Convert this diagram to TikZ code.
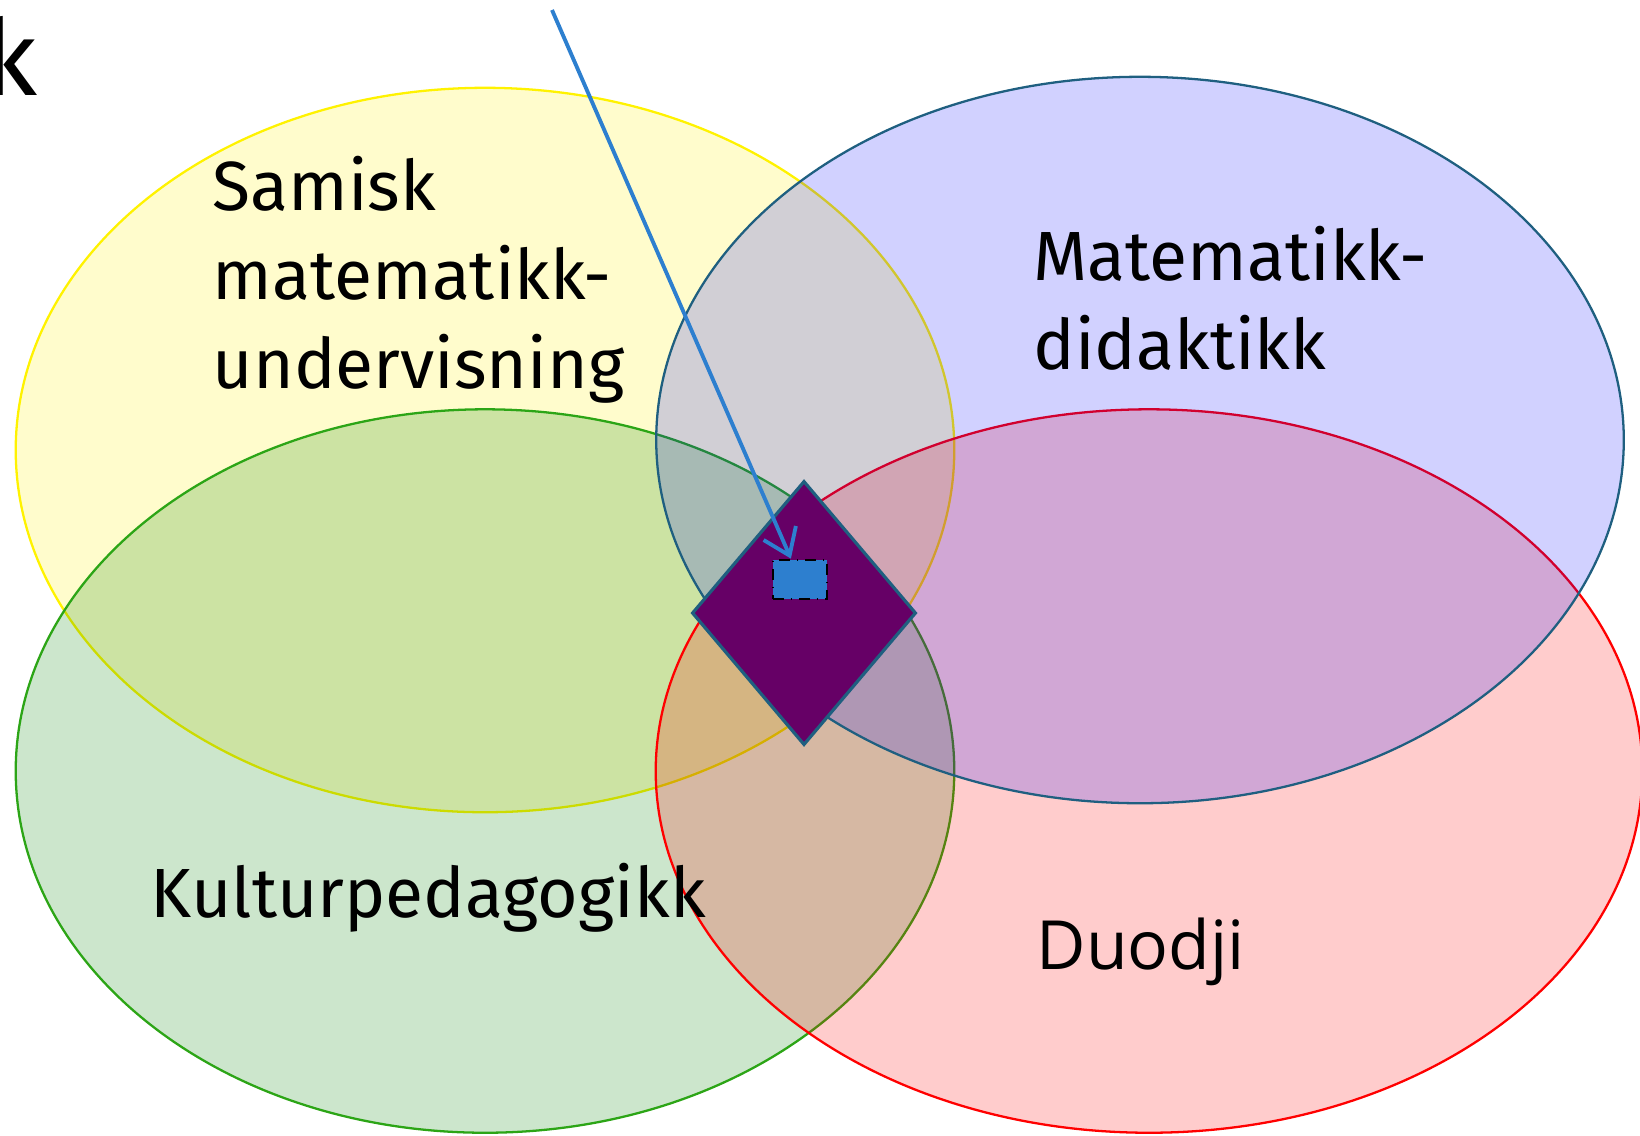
\documentclass[tikz,border=0pt]{standalone}
\usepackage{fontspec}
\setmainfont{Fira Sans}
\newfontfamily\duofont{Open Sans}
\usepackage{tikz}
\usetikzlibrary{shapes,arrows.meta,positioning}
\usepackage{xcolor}
\definecolor{tealline}{RGB}{31,95,128}
\definecolor{pilblue}{RGB}{45,127,207}
\definecolor{kjernelilla}{RGB}{102,0,102}
\definecolor{greenline}{RGB}{44,165,22}
\definecolor{mgreen}{RGB}{0,128,0}

\begin{document}
\begin{tikzpicture}[
    x=0.01cm, y=-0.01cm,
    venn/.style={ellipse, draw, line width=0.65pt, fill opacity=0.2, draw opacity=1, inner sep=0pt},
    tekst/.style={anchor=base west, inner sep=0pt, align=left, font=\fontsize{19.8}{25.3}\selectfont},
    kjerne/.style={diamond, draw=tealline, line width=0.9pt, fill=kjernelilla, inner sep=0pt, minimum width=2.24cm, minimum height=2.64cm},
    brikke/.style={rectangle, draw=black, dash dot, line width=0.8pt, fill=pilblue, inner sep=0pt, minimum width=0.54cm, minimum height=0.39cm},
    arrow/.style={-{Straight Barb[length=7pt,width=10pt]}, draw=pilblue, line width=1.1pt}
]
\useasboundingbox (0,0) rectangle (1640,1135);

\node[venn, draw=yellow, fill=yellow, minimum width=9.38cm, minimum height=7.24cm] (samisk) at (485,450) {};
\node[venn, draw=greenline, fill=mgreen, minimum width=9.38cm, minimum height=7.23cm] (kultur) at (485,771) {};
\node[venn, draw=red, fill=red, minimum width=9.86cm, minimum height=7.23cm] (duodji) at (1149,771) {};
\node[venn, draw=tealline, fill=blue, fill opacity=0.18, minimum width=9.67cm, minimum height=7.26cm] (matdid) at (1140,440) {};

\node[tekst] (samisktxt) at (212,388) {Samisk\\matematikk-\\undervisning};
\node[tekst] (matdidtxt) at (1033,369) {Matematikk-\\didaktikk};
\node[tekst] (kulturtxt) at (150,917) {Kulturpedagogikk};
\node[tekst, font=\duofont\fontsize{19.3}{24}\selectfont] (duodjitxt) at (1036,969) {Duodji};
\node[anchor=base east, inner sep=0pt, font=\fontsize{30}{36}\selectfont] (tittel) at (38,95) {k};

\node[kjerne] (kjerne) at (804,613) {};
\node[brikke] (brikke) at (800,579.5) {};
\coordinate (pilstart) at (552,10);

\draw[arrow] (pilstart) -- (brikke);

\end{tikzpicture}
\end{document}
